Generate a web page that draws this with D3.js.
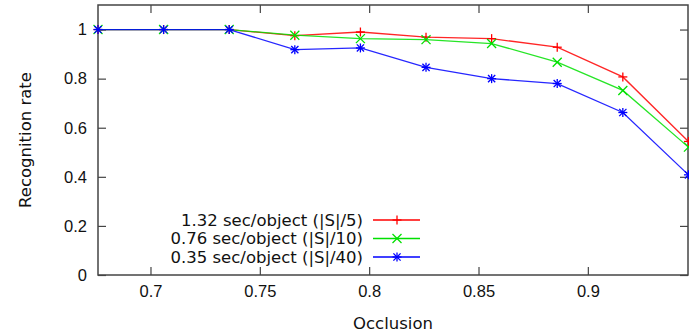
<!DOCTYPE html>
<html>
<head>
<meta charset="utf-8">
<script src="https://cdn.jsdelivr.net/npm/d3@7"></script>
<style>
  body { margin: 0; background: #fff; }
  svg { display: block; font-family: "DejaVu Sans", sans-serif; }
</style>
</head>
<body>
<div id="chart"></div>
<script>
// occlusion levels (x)
var occlusion = [0.676, 0.706, 0.736, 0.766, 0.796, 0.826, 0.856, 0.886, 0.916, 0.946];
var xTicks = [0.7, 0.75, 0.8, 0.85, 0.9];
var yTicks = [0, 0.2, 0.4, 0.6, 0.8, 1];

var seriesNames = ['1.32 sec/object (|S|/5)', '0.76 sec/object (|S|/10)', '0.35 sec/object (|S|/40)'];
var seriesColors = ['#ff0000', '#00e000', '#0000ff'];
var seriesMarkers = ['plus', 'cross', 'star'];
var rateFast = [1, 1, 1, 0.975, 0.99, 0.969, 0.963, 0.928, 0.807, 0.544];
var rateMid = [1, 1, 1, 0.977, 0.963, 0.959, 0.943, 0.867, 0.752, 0.521];
var rateSlow = [1, 1, 1, 0.918, 0.925, 0.846, 0.800, 0.780, 0.662, 0.408];

var W = 689, H = 332;
var margin = { top: 5, right: 1, bottom: 57, left: 98 };
var width = W - margin.left - margin.right;
var height = H - margin.top - margin.bottom;
var fontSize = '16.5px';

var svg = d3.select('#chart').append('svg')
  .attr('width', W).attr('height', H);
var g = svg.append('g')
  .attr('transform', 'translate(' + margin.left + ',' + margin.top + ')');

var x = d3.scaleLinear().domain([0.676, 0.9458]).range([0, width]);
var y = d3.scaleLinear().domain([0, 1.1]).range([height, 0]);

var axisColor = '#444';
var tickLen = 8;

// box
g.append('rect')
  .attr('width', width).attr('height', height)
  .attr('fill', 'none').attr('stroke', axisColor).attr('stroke-width', 1.5);

// bottom axis
var xAxis = g.append('g')
  .attr('transform', 'translate(0,' + height + ')')
  .call(d3.axisBottom(x).tickValues(xTicks).tickSize(-tickLen).tickPadding(10)
    .tickFormat(function(d) { return String(d); }));
// top mirrored ticks
var xTop = g.append('g')
  .call(d3.axisTop(x).tickValues(xTicks).tickSize(-tickLen).tickFormat(''));
// left axis
var yAxis = g.append('g')
  .call(d3.axisLeft(y).tickValues(yTicks).tickSize(-tickLen).tickPadding(11)
    .tickFormat(function(d) { return String(d); }));
// right mirrored ticks
var yRight = g.append('g')
  .attr('transform', 'translate(' + width + ',0)')
  .call(d3.axisRight(y).tickValues(yTicks).tickSize(-tickLen).tickFormat(''));

[xAxis, xTop, yAxis, yRight].forEach(function(a) {
  a.select('.domain').remove();
  a.selectAll('.tick line').attr('stroke', axisColor).attr('stroke-width', 1.2);
  a.selectAll('.tick text').attr('fill', '#111').style('font-size', fontSize);
});

// axis titles
svg.append('text')
  .attr('x', 393).attr('y', 323).attr('dy', '0.35em')
  .attr('text-anchor', 'middle').style('font-size', fontSize).attr('fill', '#111')
  .text('Occlusion');
svg.append('text')
  .attr('transform', 'translate(25,140) rotate(-90)')
  .attr('dy', '0.35em')
  .attr('text-anchor', 'middle').style('font-size', fontSize).attr('fill', '#111')
  .text('Recognition rate');

function marker(sel, type, cx, cy, color) {
  var s = 4.5;
  var m = sel.append('g').attr('transform', 'translate(' + cx + ',' + cy + ')')
    .attr('stroke', color).attr('stroke-width', 1.3);
  if (type === 'plus' || type === 'star') {
    m.append('line').attr('x1', -s).attr('x2', s).attr('y1', 0).attr('y2', 0);
    m.append('line').attr('x1', 0).attr('x2', 0).attr('y1', -s).attr('y2', s);
  }
  if (type === 'cross' || type === 'star') {
    var c = type === 'star' ? s * 0.8 : s;
    m.append('line').attr('x1', -c).attr('x2', c).attr('y1', -c).attr('y2', c);
    m.append('line').attr('x1', -c).attr('x2', c).attr('y1', c).attr('y2', -c);
  }
}

var allSeries = [rateFast, rateMid, rateSlow];
var line = d3.line()
  .x(function(d) { return x(d.x); })
  .y(function(d) { return y(d.y); });

allSeries.forEach(function(vals, i) {
  var pts = occlusion.map(function(o, j) { return { x: o, y: vals[j] }; });
  g.append('path').datum(pts)
    .attr('d', line)
    .attr('fill', 'none')
    .attr('stroke', seriesColors[i])
    .attr('stroke-width', 1.3)
    .attr('stroke-opacity', 0.85);
  pts.forEach(function(p) {
    marker(g, seriesMarkers[i], x(p.x), y(p.y), seriesColors[i]);
  });
});

// legend
var legend = svg.append('g');
seriesNames.forEach(function(name, i) {
  var ly = 220 + i * 18.5;
  legend.append('text')
    .attr('x', 363).attr('y', ly).attr('dy', '0.35em')
    .attr('text-anchor', 'end').style('font-size', fontSize).attr('fill', '#111')
    .text(name);
  legend.append('line')
    .attr('x1', 373).attr('x2', 420).attr('y1', ly).attr('y2', ly)
    .attr('stroke', seriesColors[i]).attr('stroke-width', 1.3);
  marker(legend, seriesMarkers[i], 397, ly, seriesColors[i]);
});
</script>
</body>
</html>
